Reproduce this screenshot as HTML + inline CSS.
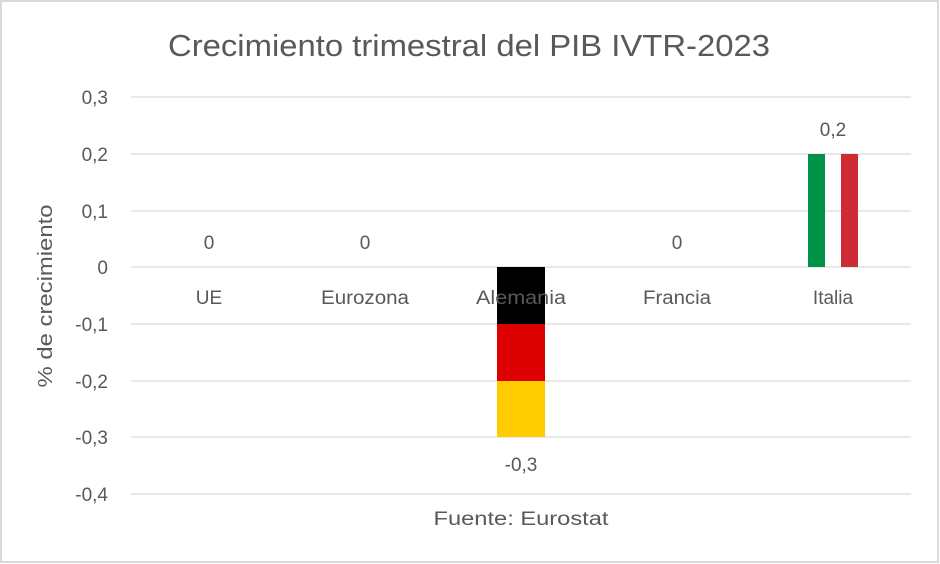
<!DOCTYPE html>
<html><head><meta charset="utf-8"><style>
html,body{margin:0;padding:0;background:#fff}
svg{display:block}
text{font-family:"Liberation Sans",sans-serif;fill:#595959}
</style></head><body>
<svg width="940" height="564" viewBox="0 0 940 564" xmlns="http://www.w3.org/2000/svg">
<rect x="1" y="1" width="937" height="561" fill="#fff" stroke="#d9d9d9" stroke-width="2"/>
<text x="469" y="56" font-size="31" text-anchor="middle" textLength="602" lengthAdjust="spacingAndGlyphs">Crecimiento trimestral del PIB IVTR-2023</text>
<g stroke="#d9d9d9" stroke-width="1.3">
<line x1="131" x2="911" y1="97" y2="97"/>
<line x1="131" x2="911" y1="154" y2="154"/>
<line x1="131" x2="911" y1="211" y2="211"/>
<line x1="131" x2="911" y1="267" y2="267"/>
<line x1="131" x2="911" y1="324" y2="324"/>
<line x1="131" x2="911" y1="381" y2="381"/>
<line x1="131" x2="911" y1="437" y2="437"/>
<line x1="131" x2="911" y1="494" y2="494"/>
</g>
<g font-size="19" text-anchor="end">
<text x="108" y="104">0,3</text>
<text x="108" y="161">0,2</text>
<text x="108" y="218">0,1</text>
<text x="108" y="274">0</text>
<text x="108" y="331">-0,1</text>
<text x="108" y="388">-0,2</text>
<text x="108" y="444">-0,3</text>
<text x="108" y="501">-0,4</text>
</g>
<text transform="translate(52,296) rotate(-90)" font-size="20" text-anchor="middle" textLength="183" lengthAdjust="spacingAndGlyphs">% de crecimiento</text>
<rect x="497" y="267" width="48" height="57" fill="#000"/>
<rect x="497" y="324" width="48" height="57" fill="#dd0000"/>
<rect x="497" y="381" width="48" height="56" fill="#ffcc00"/>
<rect x="808" y="154" width="17" height="113" fill="#009246"/>
<rect x="841" y="154" width="17" height="113" fill="#ce2b37"/>
<g font-size="19" text-anchor="middle">
<text x="209" y="304">UE</text>
<text x="365" y="304" textLength="88" lengthAdjust="spacingAndGlyphs">Eurozona</text>
<text x="521" y="304" textLength="90" lengthAdjust="spacingAndGlyphs">Alemania</text>
<text x="677" y="304" textLength="68" lengthAdjust="spacingAndGlyphs">Francia</text>
<text x="833" y="304">Italia</text>
<text x="209" y="249">0</text>
<text x="365" y="249">0</text>
<text x="677" y="249">0</text>
<text x="833" y="136">0,2</text>
<text x="521" y="471">-0,3</text>
<text x="521" y="525" textLength="175" lengthAdjust="spacingAndGlyphs">Fuente: Eurostat</text>
</g>
</svg>
</body></html>
